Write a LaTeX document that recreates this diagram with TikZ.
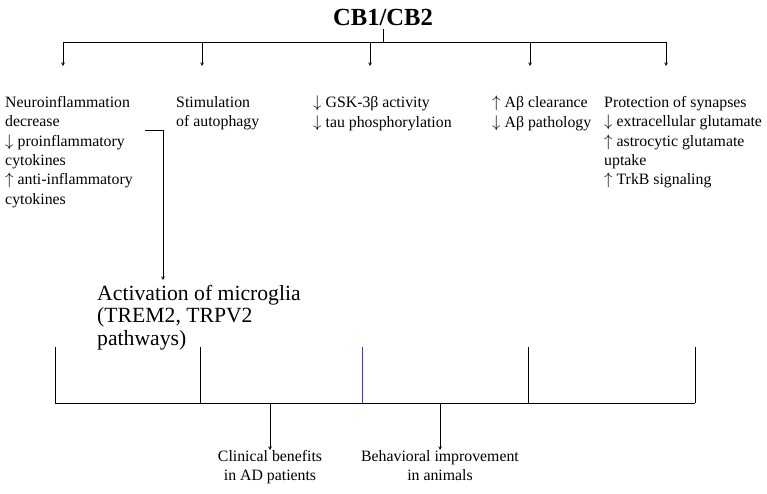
\documentclass[tikz,border=0pt]{standalone}
\usepackage{fontspec}
\setmainfont{Liberation Serif}
\usetikzlibrary{positioning}
\tikzset{
  box/.style = {align=left, anchor=north west, inner sep=0pt, font=\fontsize{13.5}{16.5}\selectfont},
  res/.style = {align=center, anchor=north, inner sep=0pt, font=\fontsize{13.5}{16.5}\selectfont},
  link/.style = {black, thin, -stealth},
  bar/.style = {black, thin}
}
\begin{document}
\begin{tikzpicture}[x=0.03cm, y=-0.03cm]
  \useasboundingbox (0,0) rectangle (767,493);
  \node[font=\fontsize{21}{24}\selectfont\bfseries] (cb) at (383,17) {CB1/CB2};
  % top bracket
  \coordinate (top) at (383,42);
  \draw[bar] (cb.south) -- (top);
  \draw[bar] (63,42) -- (666,42);
  \foreach \x in {63,202,370,530,666}
    \draw[link] (\x,42) -- (\x,66);
  % effects
  \node[box] (inflam) at (5,96) {Neuroinflammation\\decrease\\$\downarrow$ proinflammatory\\cytokines\\$\uparrow$ anti-inflammatory\\cytokines};
  \node[box] (auto) at (176,96) {Stimulation\\of autophagy};
  \node[box] (gsk) at (313,96) {$\downarrow$ GSK-3β activity\\$\downarrow$ tau phosphorylation};
  \node[box] (abeta) at (492,96) {$\uparrow$ Aβ clearance\\$\downarrow$ Aβ pathology};
  \node[box] (syn) at (604,96) {Protection of synapses\\$\downarrow$ extracellular glutamate\\$\uparrow$ astrocytic glutamate\\uptake\\$\uparrow$ TrkB signaling};
  \node[box, font=\fontsize{18.5}{19}\selectfont] (micro) at (97,285) {Activation of microglia\\(TREM2, TRPV2\\pathways)};
  \coordinate (elbow) at (145,130);
  \draw[link] (elbow) -- (163,130) -- (163,280);
  % bottom bracket
  \draw[bar] (55,403) -- (695,403);
  \foreach \x in {55,200,528,695}
    \draw[bar] (\x,347) -- (\x,403);
  \draw[bar, blue!50!gray] (362,347) -- (362,403);
  \node[res] (clin) at (270,450) {Clinical benefits\\in AD patients};
  \node[res] (behav) at (440,450) {Behavioral improvement\\in animals};
  \coordinate (c1) at (270,403);
  \coordinate (c2) at (440,403);
  \draw[link] (c1) -- (clin.north);
  \draw[link] (c2) -- (behav.north);
\end{tikzpicture}
\end{document}
